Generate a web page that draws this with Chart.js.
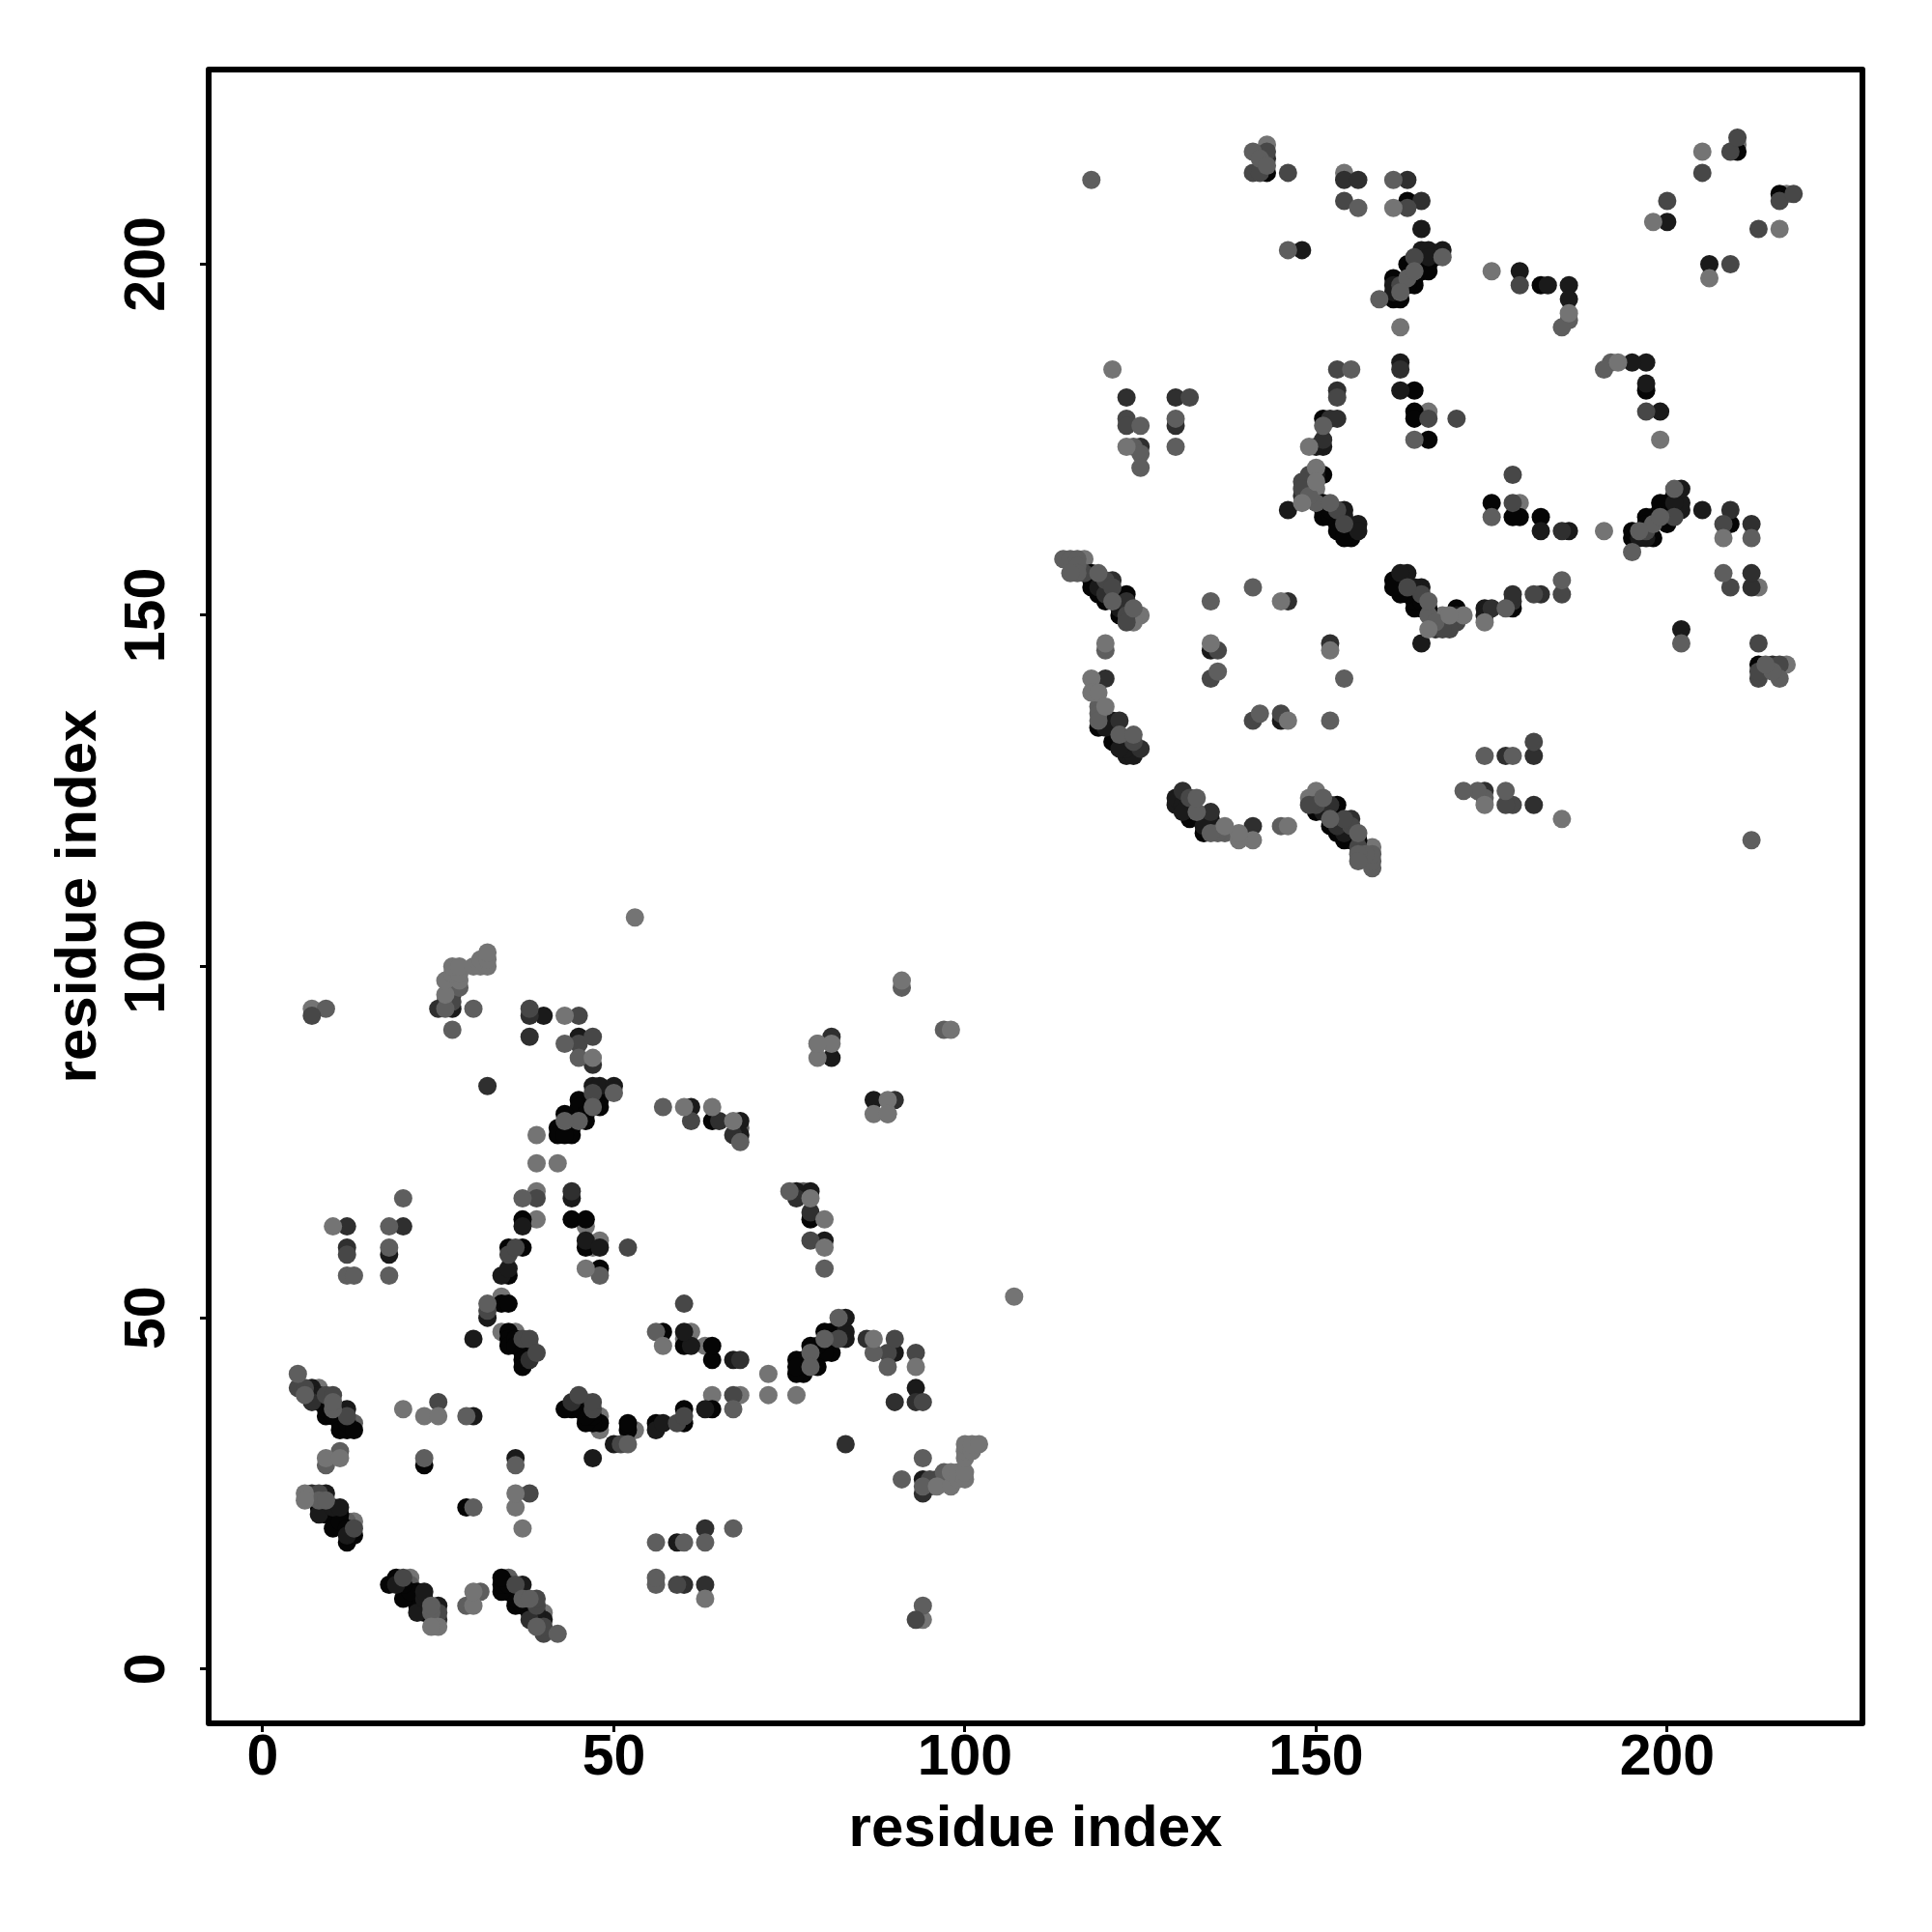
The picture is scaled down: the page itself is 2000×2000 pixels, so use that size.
<!DOCTYPE html>
<html>
<head>
<meta charset="utf-8">
<title>Residue contact map</title>
<script src="https://cdn.jsdelivr.net/npm/chart.js@4"></script>
<style>
    html, body { margin: 0; padding: 0; background: #ffffff; }
    #wrap { width: 2000px; height: 2000px; }
</style>
</head>
<body>
<div id="wrap"><canvas id="contactMap" width="2000" height="2000"></canvas></div>
<script>
// First domain, darkest to lightest
const domainOneBlack = [[8,38],[9,38],[9,36],[9,37],[10,36],[11,36],[11,35],[11,34],[12,34],[12,35],[13,34],[8,23],[9,23],[9,22],[10,22],[11,22],[10,20],[11,21],[12,20],[12,18],[13,19],[23,29],[35,60],[37,60],[35,56],[34,52],[35,52],[35,48],[35,47],[35,46],[36,47],[36,46],[37,45],[38,45],[37,44],[37,43],[48,81],[48,80],[45,81],[46,80],[45,80],[46,79],[46,78],[43,79],[44,78],[44,77],[44,76],[42,77],[42,76],[43,76],[47,81],[37,64],[44,64],[46,64],[46,60],[48,57],[64,78]];
const domainOneDark = [[7,40],[7,39],[8,39],[12,37],[8,22],[9,25],[10,23],[11,23],[12,19],[30,36],[30,47],[32,50],[34,56],[35,57],[37,63],[40,93],[45,90],[47,83],[48,83],[50,83],[44,67],[46,61],[48,60],[18,59],[61,80],[68,78],[68,76],[81,87],[27,94]];
const domainOneCharcoal = [[7,38],[7,25],[25,94],[32,83],[38,93],[38,90],[47,86],[44,68],[12,63],[20,63],[12,60],[38,44],[27,96],[65,78],[67,76],[81,90]];
const domainOneMid = [[5,40],[6,40],[9,39],[10,39],[12,36],[13,20],[8,25],[32,51],[35,59],[36,60],[37,47],[38,47],[39,45],[7,93],[27,95],[27,97],[38,94],[45,93],[45,89],[47,90],[47,82],[39,67],[52,60],[12,59],[25,38],[61,78]];
const domainOneGrey = [[5,42],[6,39],[8,24],[9,24],[10,37],[10,38],[9,29],[11,31],[29,36],[23,30],[26,94],[28,97],[27,91],[30,94],[43,89],[45,87],[37,67],[45,78],[43,78],[47,80],[50,82],[20,67],[18,63],[18,60],[12,56],[13,56],[18,56],[48,56],[32,52],[57,80],[68,75],[91,97]];
const domainOneLight = [[6,25],[6,24],[9,30],[11,30],[20,37],[23,36],[25,36],[26,96],[26,98],[28,98],[27,99],[28,99],[27,100],[28,100],[30,100],[31,100],[32,100],[31,101],[32,101],[32,102],[53,107],[43,93],[47,87],[39,76],[39,72],[42,72],[46,57],[10,63],[60,80],[64,80],[67,78],[79,89],[81,89],[79,87],[91,98],[89,79]];
// Points of the first domain that sit on top of their darker neighbours
const domainOneGreyOnTop = [[12,21],[13,35],[38,46],[9,94],[26,95],[68,77]];
const domainOneLightOnTop = [[7,94],[8,40],[13,21],[39,68],[39,64],[48,61],[47,60],[46,63],[34,48],[36,48],[34,53]];

// Second domain
const domainTwoBlack = [[118,156],[118,155],[118,154],[120,152],[122,150],[123,153],[119,153],[121,153],[122,152],[119,134],[121,132],[123,132],[122,132],[143,213],[163,209],[166,200],[163,200],[165,199],[166,199],[161,198],[164,198],[164,197],[163,197],[161,195],[162,195],[164,200],[167,201],[164,182],[164,179],[164,178],[166,175],[151,170],[151,166],[151,165],[151,164],[152,164],[153,163],[155,161],[153,162],[154,162],[154,161],[152,165],[151,178],[182,197],[210,216]];
const domainTwoDark = [[122,151],[120,135],[121,135],[120,134],[123,130],[124,130],[123,131],[122,131],[148,202],[165,205],[165,202],[166,202],[168,202],[161,197],[161,196],[166,201],[162,186],[162,182],[151,174],[150,174],[146,165],[154,165],[154,164],[156,163],[156,162],[119,154],[135,145],[150,170],[200,206],[186,197],[186,195],[179,199],[183,197],[149,169]];
const domainTwoCharcoal = [[123,181],[130,181],[125,174],[130,177],[125,131],[122,135],[120,141],[143,215],[154,212],[156,212],[163,212],[165,209],[153,182],[152,178],[153,178],[151,175],[148,167],[146,152],[123,152],[120,153],[121,155],[162,185]];
const domainTwoMid = [[123,178],[123,177],[132,181],[124,132],[120,155],[121,154],[123,150],[141,213],[142,213],[146,213],[143,216],[154,209],[163,208],[153,185],[153,181],[162,197],[164,201],[166,178],[170,178],[153,165],[154,163],[136,145],[135,141],[123,149],[205,213],[209,216],[200,209],[210,218],[179,197],[117,156],[149,170],[148,169],[148,168]];
const domainTwoGrey = [[118,212],[125,177],[130,178],[124,174],[125,173],[125,171],[130,174],[114,158],[115,158],[116,158],[116,157],[116,156],[119,156],[115,156],[119,137],[119,136],[119,135],[122,133],[124,133],[124,151],[121,152],[141,216],[142,215],[143,214],[156,208],[161,212],[146,202],[155,185],[159,195],[163,198],[164,199],[162,196],[168,201],[151,177],[150,166],[152,166],[120,145],[141,154],[135,152],[136,142],[186,192],[185,191],[149,167],[164,175]];
const domainTwoLight = [[121,185],[123,174],[118,141],[118,139],[119,139],[120,137],[120,146],[161,208],[162,191],[149,174],[150,171],[150,169],[148,166],[145,152],[135,146],[186,193],[205,216],[198,206]];
const domainTwoLightOnTop = [[117,158],[125,150],[124,149],[143,217],[154,213],[166,179],[150,168],[175,199],[210,217]];

const greys = ["#050505", "#1a1a1a", "#2f2f2f", "#474747", "#5e5e5e", "#747474"];
const tickValues = [0, 50, 100, 150, 200];
const axisTitle = "residue index";

// Grey level 0-5 with the points of both domains, in the order they get painted
const layers = [
    { level: 5, pairs: domainOneLight.concat(domainTwoLight) },
    { level: 4, pairs: domainOneGrey.concat(domainTwoGrey) },
    { level: 3, pairs: domainOneMid.concat(domainTwoMid) },
    { level: 2, pairs: domainOneCharcoal.concat(domainTwoCharcoal) },
    { level: 1, pairs: domainOneDark.concat(domainTwoDark) },
    { level: 0, pairs: domainOneBlack.concat(domainTwoBlack) },
    { level: 4, pairs: domainOneGreyOnTop },
    { level: 5, pairs: domainOneLightOnTop.concat(domainTwoLightOnTop) }
];

const datasets = layers.map(layer => ({
    data: layer.pairs.flatMap(([i, j]) => [{ x: i, y: j }, { x: j, y: i }]),
    backgroundColor: greys[layer.level],
    pointRadius: 9.5,
    borderWidth: 0
}));

// Box round the plot area
const frame = {
    id: "frame",
    afterDatasetsDraw(chart) {
        const { ctx, chartArea: a } = chart;
        ctx.save();
        ctx.strokeStyle = "#000000";
        ctx.lineWidth = 6;
        ctx.lineJoin = "round";
        ctx.strokeRect(a.left, a.top, a.right - a.left, a.bottom - a.top);
        ctx.restore();
    }
};

const font = { family: "'Liberation Sans'", size: 59, weight: "bold" };
const titleFont = { family: "'Liberation Sans'", size: 60, weight: "bold" };

function axisOptions(min, max, extra) {
    return Object.assign({
        type: "linear",
        min: min,
        max: max,
        afterBuildTicks: scale => { scale.ticks = tickValues.map(value => ({ value })); },
        border: { display: false },
        grid: { drawOnChartArea: false, drawTicks: true, tickLength: 9, tickWidth: 3, tickColor: "#000000" }
    }, extra);
}

new Chart(document.getElementById("contactMap").getContext("2d"), {
    type: "scatter",
    data: { datasets: datasets },
    plugins: [frame],
    options: {
        responsive: false,
        animation: false,
        layout: { padding: { top: 72, right: 72, left: 0, bottom: 0 } },
        plugins: { legend: { display: false }, tooltip: { enabled: false } },
        scales: {
            x: axisOptions(-7.7, 227.8, {
                afterFit: scale => { scale.height = 216; },
                ticks: { color: "#000000", font: font, padding: -8, maxRotation: 0, autoSkip: false, callback: v => String(v) },
                title: { display: true, text: axisTitle, color: "#000000", font: titleFont, padding: { top: 0, bottom: 70 } }
            }),
            y: axisOptions(-7.74, 227.7, {
                afterFit: scale => { scale.width = 216; },
                ticks: { color: "#000000", font: font, padding: 4, minRotation: 90, maxRotation: 90, crossAlign: "center", autoSkip: false, callback: v => String(v) },
                title: { display: true, text: axisTitle, color: "#000000", font: titleFont, padding: { top: 46, bottom: 0 } }
            })
        }
    }
});
</script>
</body>
</html>
